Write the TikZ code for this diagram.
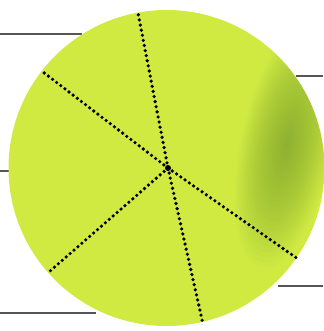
\documentclass[tikz,border=0pt]{standalone}
\usepackage{tikz}
\definecolor{plateGreen}{RGB}{208, 234, 66}
\definecolor{plateShade}{RGB}{110, 150, 50}
\definecolor{lineGray}{RGB}{85, 85, 85}

\tikzset{
  spoke/.style={line width=3.6pt, line cap=round, dash pattern=on 0pt off 5.2pt},
  rule/.style={lineGray, line width=1.3pt}
}

\begin{document}
\begin{tikzpicture}[x=1pt, y=-1pt]
        \useasboundingbox (0,0) rectangle (323,331);

        % Guide rules behind the plate
        \draw[rule] (0,34) -- (82,34);
        \draw[rule] (0,171) -- (12,171);
        \draw[rule] (0,313) -- (96,313);
        \draw[rule] (296,76) -- (323,76);
        \draw[rule] (278,286) -- (323,286);

        % Plate
        \fill[plateGreen] (166.5,168) circle (158);
        \begin{scope}
          \clip (166.5,168) circle (158);
          % soft shadow on the right
          \foreach \k in {1,...,24}
            \fill[plateShade, fill opacity=0.035, rotate around={-12:(287,145)}]
              (287,145) ellipse ({46*\k/24} and {125*\k/24});
        \end{scope}

        % Cuts from the hub
        \coordinate (hub) at (168,168);
        \foreach \ex/\ey in {138/13, 43/72, 49/272, 203/324, 298/259}
          \draw[spoke] (hub) -- (\ex,\ey);
        \fill (hub) circle (3);
      \end{tikzpicture}
\end{document}
